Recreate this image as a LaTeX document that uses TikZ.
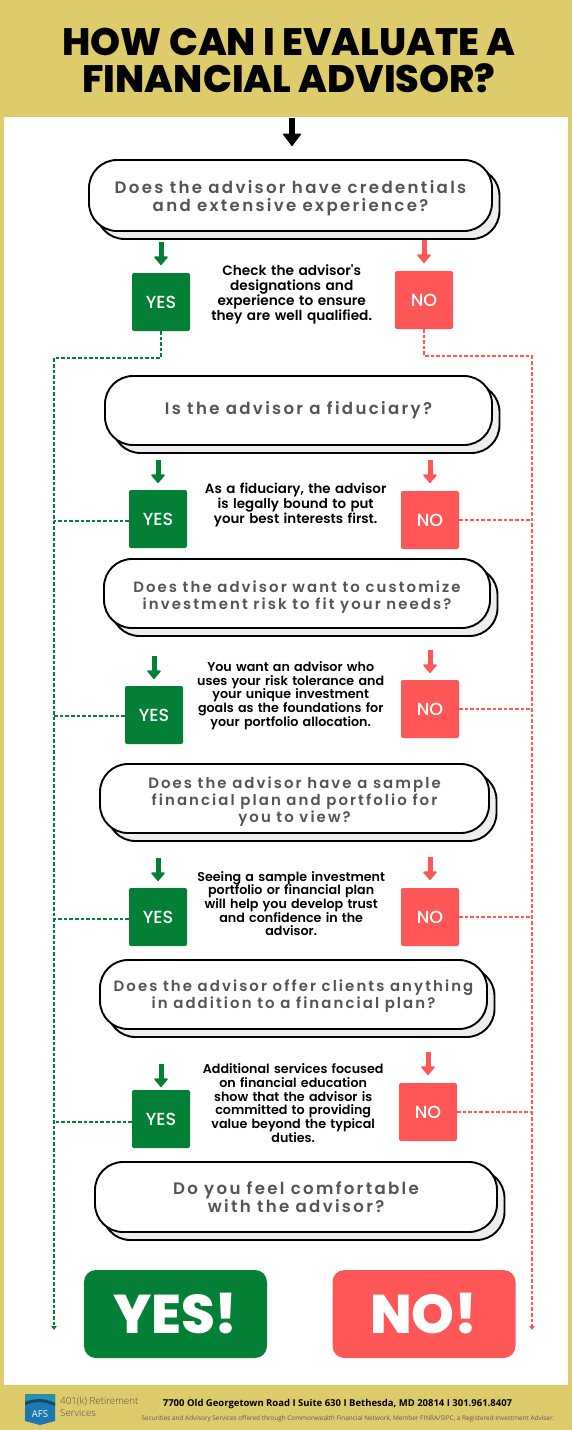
\documentclass[tikz,border=0pt]{standalone}
\usepackage{fontspec}
\usepackage{xcolor}
\usetikzlibrary{arrows.meta,positioning,calc,shadows}
\setmainfont{Poppins}
\newfontfamily\qfont[LetterSpace=14]{Poppins SemiBold}
\newfontfamily\capfont{Poppins SemiBold}
\newfontfamily\tagfont{Poppins Medium}
\newfontfamily\heavyfont{Poppins ExtraBold}
\newfontfamily\footfont{Open Sans}
\newfontfamily\brandfont{Open Sans Light}
\definecolor{gold}{HTML}{DECB6B}
\definecolor{yesgreen}{HTML}{038035}
\definecolor{nored}{HTML}{FF5757}
\definecolor{qtext}{HTML}{545454}
\definecolor{qshade}{HTML}{EEEEEE}
\definecolor{logotop}{HTML}{2A8FA8}
\definecolor{logowave}{HTML}{14466E}
\definecolor{logobody}{HTML}{1C78B0}
\tikzset{
  question/.style={draw, line width=1.9pt, rounded corners=28pt, fill=white, minimum height=69pt, align=center, inner sep=0pt, outer sep=0pt, text=qtext, font=\qfont\fontsize{16.6}{18.5}\selectfont, copy shadow={opacity=1, shadow xshift=7.5pt, shadow yshift=-8pt, fill=qshade, draw=black, line width=1.9pt}},
  tightq/.style={font=\qfont\fontsize{14.9}{16.7}\selectfont},
  qdrop/.style={execute at begin node={\rule{0pt}{#1}}},
  tagbox/.style={rounded corners=2pt, minimum width=58pt, minimum height=58pt, inner sep=0pt, outer sep=0pt, text=white, font=\tagfont\fontsize{17.5}{18}\selectfont},
  yesbox/.style={tagbox, fill=yesgreen},
  nobox/.style={tagbox, fill=nored},
  bigbox/.style={rounded corners=12pt, minimum width=183pt, minimum height=88pt, inner sep=0pt, outer sep=0pt, text=white, font=\heavyfont\fontsize{54.5}{54}\selectfont},
  caption/.style={inner sep=0pt, text width=214pt, align=center, text=black, font=\capfont\fontsize{13.4}{15}\selectfont},
  tightcap/.style={font=\capfont\fontsize{12.7}{13.7}\selectfont},
  yesgo/.style={draw=yesgreen, line width=5pt, -{Triangle[length=9pt, width=15pt, line width=1.5pt, round]}},
  nogo/.style={draw=nored, line width=5pt, -{Triangle[length=9pt, width=15pt, line width=1.5pt, round]}},
  yesrail/.style={draw=yesgreen, line width=1.2pt, dash pattern=on 3.6pt off 2pt, -{Triangle[length=4pt, width=5.5pt]}},
  norail/.style={draw=nored, line width=1.2pt, dash pattern=on 3.6pt off 2pt, -{Triangle[length=4pt, width=5.5pt]}},
}
\begin{document}
\begin{tikzpicture}[x=1pt, y=-1pt]
  \useasboundingbox (0,0) rectangle (572,1430);
  \fill[gold] (0,0) rectangle (572,1430);
  \fill[white] (4,117) rectangle (568,1385);
  \node[inner sep=0pt, align=center, font=\heavyfont\fontsize{38.2}{37}\selectfont] (title) at (289,60) {HOW CAN I EVALUATE A\\FINANCIAL ADVISOR?};
  \coordinate (start) at (292,118);
  \node[question, qdrop=37pt, minimum width=403pt, minimum height=71pt] (q1) at (290.5,195.5) {Does the advisor have credentials\\and extensive experience?};
  \node[question, minimum width=387pt, below=145pt of q1, xshift=8pt] (q2) {Is the advisor a fiduciary?};
  \node[question, tightq, qdrop=35pt, minimum width=386pt, below=114pt of q2, xshift=-1.5pt] (q3) {Does the advisor want to customize\\investment risk to fit your needs?};
  \node[question, tightq, qdrop=51pt, minimum width=389pt, below=136pt of q3, xshift=-2.5pt] (q4) {Does the advisor have a sample\\financial plan and portfolio for\\you to view?};
  \node[question, tightq, qdrop=32pt, minimum width=387pt, below=127pt of q4, xshift=-1pt] (q5) {Does the advisor offer clients anything\\in addition to a financial plan?};
  \node[question, minimum width=402pt, minimum height=70pt, below=133pt of q5, xshift=2.5pt] (q6) {Do you feel comfortable\\with the advisor?};
  \node[yesbox, below=42pt of q1, xshift=-129.5pt] (y1) {YES};
  \node[nobox, below=40pt of q1, xshift=133.5pt] (n1) {NO};
  \node[yesbox, below=45pt of q2, xshift=-140.5pt] (y2) {YES};
  \node[nobox, below=46pt of q2, xshift=131.5pt] (n2) {NO};
  \node[yesbox, below=58pt of q3, xshift=-143pt] (y3) {YES};
  \node[nobox, below=52pt of q3, xshift=133pt] (n3) {NO};
  \node[yesbox, below=55pt of q4, xshift=-136.5pt] (y4) {YES};
  \node[nobox, below=55pt of q4, xshift=135.5pt] (n4) {NO};
  \node[yesbox, below=61pt of q5, xshift=-132.5pt] (y5) {YES};
  \node[nobox, below=54pt of q5, xshift=134.5pt] (n5) {NO};
  \node[caption, font=\capfont\fontsize{13.7}{15}\selectfont, right=-5.5pt of y1, yshift=8pt] (c1) {Check the advisor's\\designations and\\experience to ensure\\they are well qualified.};
  \node[caption, right=1.5pt of y2, yshift=14pt] (c2) {As a fiduciary, the advisor\\is legally bound to put\\your best interests first.};
  \node[caption, tightcap, right=0.5pt of y3, yshift=19.5pt] (c3) {You want an advisor who\\uses your risk tolerance and\\your unique investment\\goals as the foundations for\\your portfolio allocation.};
  \node[caption, tightcap, right=-3pt of y4, yshift=13.5pt] (c4) {Seeing a sample investment\\portfolio or financial plan\\will help you develop trust\\and confidence in the\\advisor.};
  \node[caption, tightcap, right=-4pt of y5, yshift=16pt] (c5) {Additional services focused\\on financial education\\show that the advisor is\\committed to providing\\value beyond the typical\\duties.};
  \node[bigbox, fill=yesgreen, below=38pt of q6, xshift=-120.5pt] (bigyes) {YES!};
  \node[bigbox, fill=nored, below=38pt of q6, xshift=128pt] (bigno) {NO!};
  \draw[line width=6.5pt, -{Triangle[length=13pt, width=19pt, line width=1.5pt, round]}, shorten >=14pt] (start) -- (start |- q1.north);
  \draw[yesgo, shorten <=11pt, shorten >=8pt] (q1.south -| y1) -- (y1);
  \draw[nogo, shorten <=9pt, shorten >=8pt] (q1.south -| n1) -- (n1);
  \draw[yesgo, shorten <=15pt, shorten >=7pt] (q2.south -| y2) -- (y2);
  \draw[nogo, shorten <=15pt, shorten >=8pt] (q2.south -| n2) -- (n2);
  \draw[yesgo, shorten <=28pt, shorten >=7pt] (q3.south -| y3) -- (y3);
  \draw[nogo, shorten <=22pt, shorten >=7pt] (q3.south -| n3) -- (n3);
  \draw[yesgo, shorten <=25pt, shorten >=7pt] (q4.south -| y4) -- (y4);
  \draw[nogo, shorten <=24pt, shorten >=8pt] (q4.south -| n4) -- (n4);
  \draw[yesgo, shorten <=35pt, shorten >=3pt] (q5.south -| y5) -- (y5);
  \draw[nogo, shorten <=23pt, shorten >=8pt] (q5.south -| n5) -- (n5);
  \coordinate (greentop) at (54,358);
  \coordinate (greenend) at (54,1330);
  \coordinate (redtop) at (532,356);
  \coordinate (redend) at (532,1330);
  \draw[yesrail] (y1.south) |- (greentop) -- (greenend);
  \draw[norail] (n1.south) |- (redtop) -- (redend);
  \draw[yesrail, -] ([yshift=-2pt]y2.west) -- ([yshift=-2pt]y2.west -| greentop);
  \draw[yesrail, -] ([yshift=-1pt]y3.west) -- ([yshift=-1pt]y3.west -| greentop);
  \draw[yesrail, -] ([yshift=-2pt]y4.west) -- ([yshift=-2pt]y4.west -| greentop);
  \draw[yesrail, -] ([yshift=-3pt]y5.west) -- ([yshift=-3pt]y5.west -| greentop);
  \draw[norail, -] (n2.east) -- (n2.east -| redtop);
  \draw[norail, -] (n3.east) -- (n3.east -| redtop);
  \draw[norail, -] (n4.east) -- (n4.east -| redtop);
  \draw[norail, -] (n5.east) -- (n5.east -| redtop);
  \fill[logobody] (25,1394) -- (55,1394) -- (55,1421) -- (40,1425) -- (25,1421) -- cycle;
  \fill[logotop] (25,1394) -- (55,1394) -- (55,1403) .. controls (45,1398) and (35,1398) .. (25,1402) -- cycle;
  \fill[logowave] (25,1402) .. controls (35,1398) and (45,1398) .. (55,1403) -- (55,1406) .. controls (45,1401) and (35,1401) .. (25,1405) -- cycle;
  \node[text=white, inner sep=0pt, font=\footfont\fontsize{9.5}{10}\selectfont] (afs) at (40,1414) {AFS};
  \node[anchor=west, align=left, inner sep=0pt, text=black!70, font=\brandfont\fontsize{9.8}{12.5}\selectfont] (brand) at (60,1407) {401(k) Retirement\\Services};
  \node[inner sep=0pt, text=black, font=\footfont\bfseries\fontsize{9.5}{10}\selectfont] (addr) at (337.5,1404) {7700 Old Georgetown Road I Suite 630 I Bethesda, MD 20814 I 301.961.8407};
  \node[inner sep=0pt, text=black!65, font=\footfont\fontsize{6.4}{7}\selectfont] (legal) at (348,1419) {Securities and Advisory Services offered through Commonwealth Financial Network, Member FINRA/SIPC, a Registered Investment Adviser.};
\end{tikzpicture}
\end{document}
